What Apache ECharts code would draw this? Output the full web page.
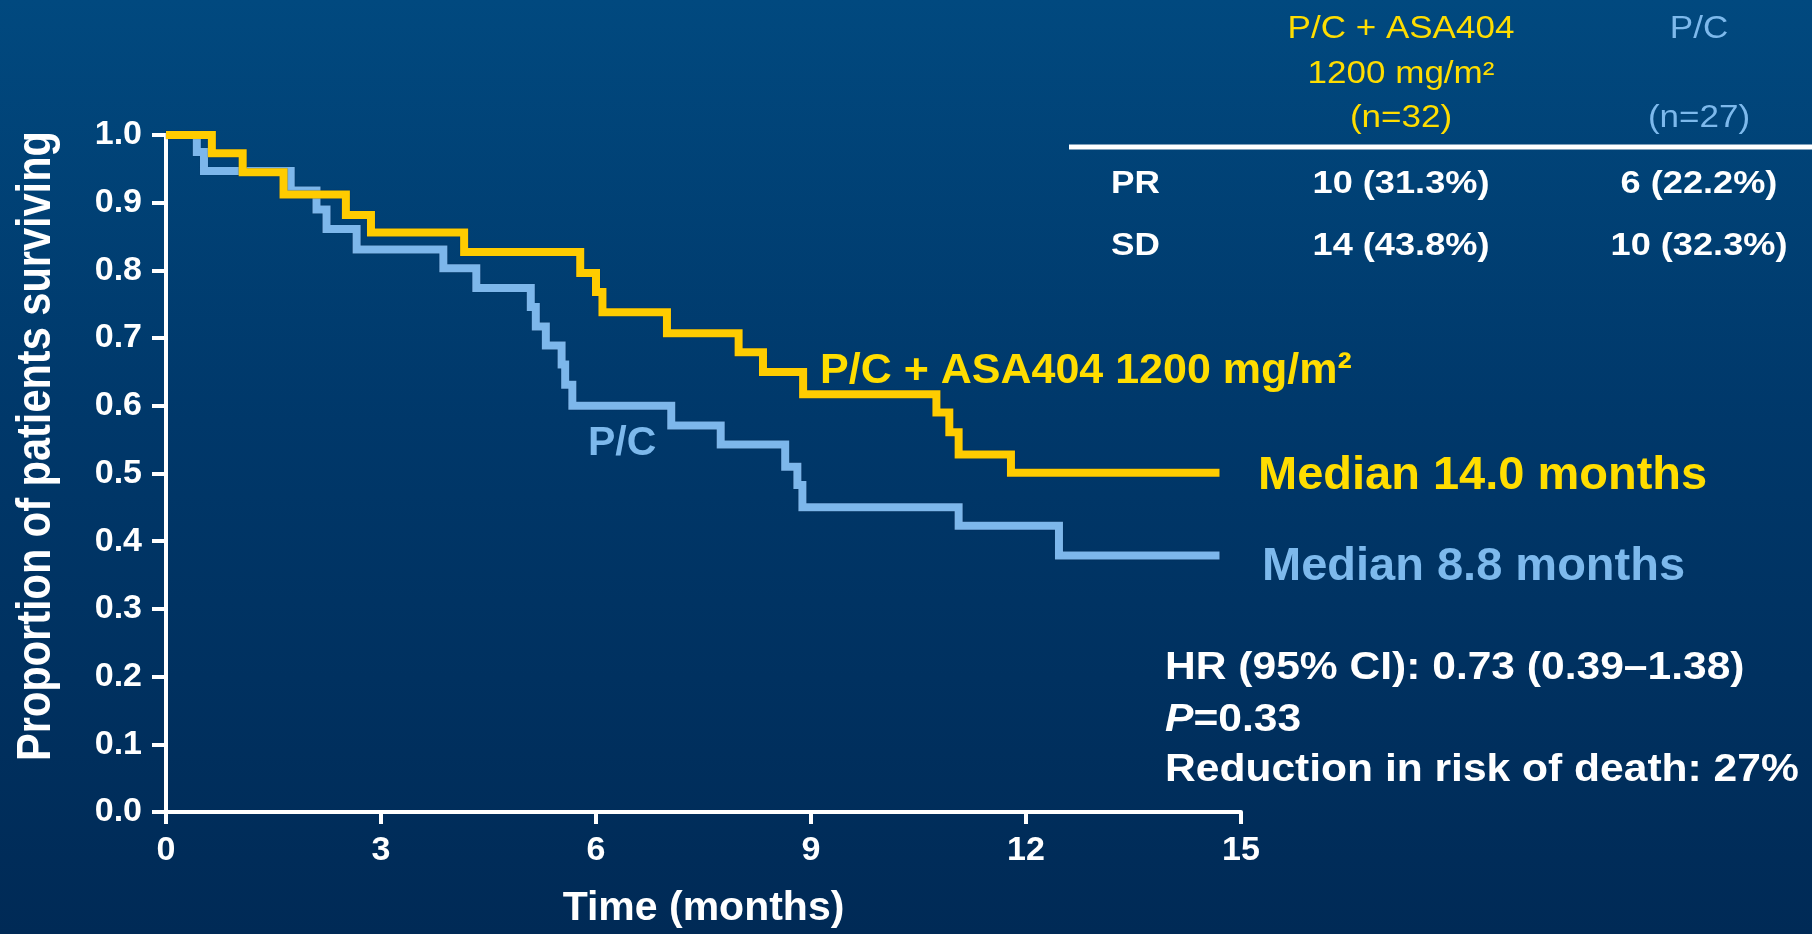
<!DOCTYPE html>
<html>
<head>
<meta charset="utf-8">
<script src="https://cdn.jsdelivr.net/npm/echarts@6/dist/echarts.min.js"></script>
<style>
html,body{margin:0;padding:0;}
#c{width:1812px;height:934px;background:linear-gradient(180deg,#01497f 0%,#00386a 45%,#002a56 100%);}
</style>
</head>
<body>
<div id="c"></div>
<script>
// Kaplan–Meier step data (time in months, proportion surviving)
const asaTime = [0, 0.64, 1.07, 1.64, 2.51, 2.86, 4.16, 5.78, 6.00, 6.09, 6.99, 7.99, 8.33, 8.89, 10.75, 10.93, 11.06, 11.79, 14.70];
const asaSurv = [1.0, 0.973, 0.945, 0.912, 0.882, 0.856, 0.827, 0.796, 0.768, 0.738, 0.707, 0.679, 0.650, 0.617, 0.590, 0.561, 0.528, 0.501, 0.501];
const pcTime  = [0, 0.43, 0.53, 1.74, 2.10, 2.24, 2.66, 3.87, 4.33, 5.09, 5.16, 5.30, 5.52, 5.57, 5.67, 7.05, 7.74, 8.64, 8.81, 8.88, 11.06, 12.46, 14.70];
const pcSurv  = [1.0, 0.975, 0.947, 0.918, 0.890, 0.861, 0.831, 0.803, 0.774, 0.746, 0.717, 0.689, 0.661, 0.631, 0.600, 0.571, 0.543, 0.510, 0.483, 0.450, 0.423, 0.379, 0.379];

const xTicks = [0, 3, 6, 9, 12, 15];
const yTicks = [0.0, 0.1, 0.2, 0.3, 0.4, 0.5, 0.6, 0.7, 0.8, 0.9, 1.0];

const seriesNames = ['P/C + ASA404 1200 mg/m²', 'P/C'];
const medianLabels = ['Median 14.0 months', 'Median 8.8 months'];
const statLines = ['HR (95% CI): 0.73 (0.39–1.38)', '{i|P}=0.33', 'Reduction in risk of death: 27%'];

const tableHeadAsa = ['P/C + ASA404', '1200 mg/m²', '(n=32)'];
const tableHeadPc = ['P/C', '', '(n=27)'];
const tableRows = ['PR', 'SD'];
const tableAsa = ['10 (31.3%)', '14 (43.8%)'];
const tablePc = ['6 (22.2%)', '10 (32.3%)'];

const FF = '"Liberation Sans", Arial, Helvetica, sans-serif';
const YEL_LINE = '#FFCC00', YEL_TXT = '#FFDD00';
const BLU_LINE = '#7DB7EB', BLU_TXT = '#7DB9EC';

function txt(o) {
  const s = Object.assign({
    fontFamily: FF, fontWeight: 'bold', fontSize: 30, fill: '#ffffff',
    align: 'left', verticalAlign: 'middle'
  }, o.style);
  s.textAlign = s.align; s.textVerticalAlign = s.verticalAlign;
  return Object.assign({ type: 'text', z: 10 }, o, { style: s });
}

const graphics = [];
// y axis title
graphics.push(txt({ x: 37, y: 446, rotation: Math.PI / 2, scaleX: 0.865,
  style: { text: 'Proportion of patients surviving', fontSize: 48, align: 'center' } }));
// curve labels
graphics.push(txt({ x: 820, y: 371, style: { text: seriesNames[0], fontSize: 43, fill: YEL_TXT } }));
graphics.push(txt({ x: 588, y: 444, style: { text: seriesNames[1], fontSize: 41, fill: BLU_TXT } }));
// medians
graphics.push(txt({ x: 1258, y: 476, style: { text: medianLabels[0], fontSize: 47, fill: YEL_TXT } }));
graphics.push(txt({ x: 1262, y: 567, style: { text: medianLabels[1], fontSize: 47, fill: BLU_TXT } }));
// stats block
const statY = [669, 721, 771];
statLines.forEach((t, i) => {
  graphics.push(txt({ x: 1165, y: statY[i], scaleX: 1.12,
    style: { text: t, fontSize: 38,
      rich: { i: { fontStyle: 'italic', fontWeight: 'bold', fontSize: 38, fontFamily: FF, fill: '#ffffff' } } } }));
});
// table
const headY = [29, 74, 118];
const colX = [1401, 1699];
tableHeadAsa.forEach((t, i) => {
  graphics.push(txt({ x: colX[0], y: headY[i], scaleX: 1.13,
    style: { text: t, fontSize: 31, fontWeight: 'normal', fill: YEL_TXT, align: 'center' } }));
});
tableHeadPc.forEach((t, i) => {
  if (!t) return;
  graphics.push(txt({ x: colX[1], y: headY[i], scaleX: 1.13,
    style: { text: t, fontSize: 31, fontWeight: 'normal', fill: BLU_TXT, align: 'center' } }));
});
graphics.push({ type: 'line', z: 10, shape: { x1: 1069, y1: 147, x2: 1812, y2: 147 },
  style: { stroke: '#ffffff', lineWidth: 5 } });
const rowY = [184, 246];
tableRows.forEach((r, i) => {
  graphics.push(txt({ x: 1111, y: rowY[i], scaleX: 1.1, style: { text: r, fontSize: 32 } }));
  graphics.push(txt({ x: colX[0], y: rowY[i], scaleX: 1.13, style: { text: tableAsa[i], fontSize: 32, align: 'center' } }));
  graphics.push(txt({ x: colX[1], y: rowY[i], scaleX: 1.13, style: { text: tablePc[i], fontSize: 32, align: 'center' } }));
});

const axisLabelStyle = { color: '#ffffff', fontSize: 34, fontWeight: 'bold', fontFamily: FF };

const option = {
  animation: false,
  backgroundColor: 'transparent',
  grid: { left: 166, top: 135, width: 1075, height: 680, containLabel: false },
  xAxis: {
    type: 'value',
    min: xTicks[0], max: xTicks[xTicks.length - 1], interval: xTicks[1] - xTicks[0],
    name: 'Time (months)', nameLocation: 'middle', nameGap: 76,
    nameTextStyle: { color: '#ffffff', fontSize: 41, fontWeight: 'bold', fontFamily: FF },
    axisLine: { show: true, onZero: false, lineStyle: { color: '#ffffff', width: 4 } },
    axisTick: { show: true, length: 12, lineStyle: { color: '#ffffff', width: 4 } },
    axisLabel: Object.assign({ margin: 22 }, axisLabelStyle),
    splitLine: { show: false }
  },
  yAxis: {
    type: 'value',
    min: yTicks[0], max: yTicks[yTicks.length - 1], interval: 0.1,
    axisLine: { show: true, onZero: false, lineStyle: { color: '#ffffff', width: 4 } },
    axisTick: { show: true, length: 14, lineStyle: { color: '#ffffff', width: 4 } },
    axisLabel: Object.assign({ margin: 24, formatter: v => v.toFixed(1) }, axisLabelStyle),
    splitLine: { show: false }
  },
  series: [
    {
      name: seriesNames[1], type: 'line', step: 'end', symbol: 'none', clip: false, z: 2,
      data: pcTime.map((t, i) => [t, pcSurv[i]]),
      lineStyle: { color: BLU_LINE, width: 8, cap: 'butt', join: 'miter',
        shadowColor: 'rgba(0,20,50,0.6)', shadowBlur: 1 }
    },
    {
      name: seriesNames[0], type: 'line', step: 'end', symbol: 'none', clip: false, z: 3,
      data: asaTime.map((t, i) => [t, asaSurv[i]]),
      lineStyle: { color: YEL_LINE, width: 8, cap: 'butt', join: 'miter',
        shadowColor: 'rgba(0,20,50,0.6)', shadowBlur: 1 }
    }
  ],
  graphic: graphics
};

const chart = echarts.init(document.getElementById('c'), null, { renderer: 'canvas' });
chart.setOption(option);
</script>
</body>
</html>
